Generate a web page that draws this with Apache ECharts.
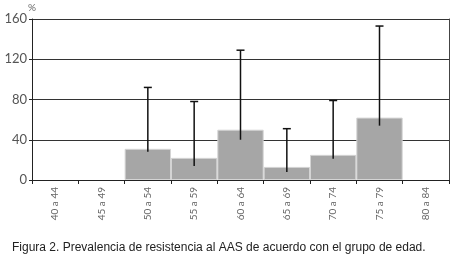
<!DOCTYPE html>
<html lang="es">
<head>
<meta charset="UTF-8">
<title>Figura 2</title>
<script src="https://cdn.jsdelivr.net/npm/echarts@6/dist/echarts.min.js"></script>
<style>
    html, body { margin: 0; padding: 0; background: #fff; }
    #container { width: 450px; height: 260px; }
</style>
</head>
<body>
<div id="container"></div>
<script type="text/javascript">
    // datos
    var grupos = ['40 a 44', '45 a 49', '50 a 54', '55 a 59', '60 a 64', '65 a 69', '70 a 74', '75 a 79', '80 a 84'];
    var prevalencia = [0, 0, 31, 22, 50, 13, 25, 62, 0];
    var limInferior = [null, null, 28, 14, 40, 8, 21, 54, null];
    var limSuperior = [null, null, 92, 78, 129, 51, 79, 153, null];
    var yTicks = [0, 40, 80, 120, 160];

    // barras de altura 0 no se dibujan (si no, queda una raya gris sobre el eje)
    var barData = prevalencia.map(function (v) { return v === 0 ? null : v; });

    var errData = [];
    for (var i = 0; i < grupos.length; i++) {
        if (limSuperior[i] != null) {
            errData.push([i, limInferior[i], limSuperior[i]]);
        }
    }

    var dom = document.getElementById('container');
    var myChart = echarts.init(dom, null, { renderer: 'canvas' });

    var option = {
        animation: false,
        title: {
            text: 'Figura 2. Prevalencia de resistencia al AAS de acuerdo con el grupo de edad.',
            left: 7,
            top: 237,
            textStyle: {
                fontFamily: 'Liberation Sans',
                fontSize: 12,
                fontWeight: 'normal',
                color: '#222'
            }
        },
        grid: {
            left: 32,
            right: 1,
            top: 19,
            bottom: 80
        },
        xAxis: {
            type: 'category',
            data: grupos,
            boundaryGap: true,
            axisLine: { lineStyle: { color: '#222', width: 1 } },
            axisTick: { show: true, alignWithLabel: false, length: 4, lineStyle: { color: '#222' } },
            axisLabel: {
                rotate: 90,
                margin: 7,
                interval: 0,
                fontFamily: 'Lato',
                fontSize: 10,
                color: '#666'
            }
        },
        yAxis: [
            {
                type: 'value',
                min: yTicks[0],
                max: yTicks[yTicks.length - 1],
                interval: 40,
                name: '%',
                nameGap: 4,
                nameTextStyle: { fontFamily: 'Lato', fontSize: 10, color: '#666' },
                axisLine: { show: true, lineStyle: { color: '#222', width: 1 } },
                axisTick: { show: true, length: 3, lineStyle: { color: '#222' } },
                splitLine: { lineStyle: { color: '#333', width: 1 } },
                axisLabel: {
                    margin: 5,
                    fontFamily: 'Lato',
                    fontSize: 13,
                    color: '#555'
                }
            },
            {
                // borde derecho del area de trazado
                type: 'value',
                position: 'right',
                min: yTicks[0],
                max: yTicks[yTicks.length - 1],
                interval: 40,
                axisLine: { show: true, lineStyle: { color: '#444', width: 1 } },
                axisTick: { show: false },
                axisLabel: { show: false },
                splitLine: { show: false }
            }
        ],
        series: [
            {
                name: 'Prevalencia',
                type: 'bar',
                data: barData,
                barCategoryGap: '0%',
                itemStyle: { color: '#a6a6a6', borderColor: '#d4d4d4', borderWidth: 1 }
            },
            {
                name: 'IC',
                type: 'custom',
                data: errData,
                encode: { x: 0, y: [1, 2] },
                z: 5,
                renderItem: function (params, api) {
                    var idx = api.value(0);
                    var lo = api.coord([idx, api.value(1)]);
                    var hi = api.coord([idx, api.value(2)]);
                    var cap = 4;
                    var st = { stroke: '#111', lineWidth: 1.5 };
                    return {
                        type: 'group',
                        children: [
                            { type: 'line', shape: { x1: hi[0], y1: hi[1], x2: lo[0], y2: lo[1] }, style: st },
                            { type: 'line', shape: { x1: hi[0] - cap, y1: hi[1], x2: hi[0] + cap, y2: hi[1] }, style: st }
                        ]
                    };
                }
            }
        ]
    };
    myChart.setOption(option);
    window.addEventListener('resize', myChart.resize);
</script>
</body>
</html>
